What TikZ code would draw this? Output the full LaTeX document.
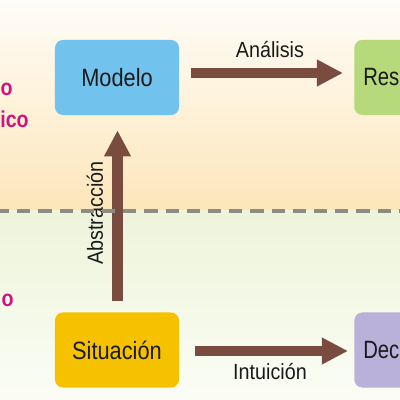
\documentclass[tikz,border=0pt]{standalone}
\usepackage{fontspec}
\setmainfont{Liberation Sans}
\newfontfamily\condfont[FakeStretch=0.87]{Liberation Sans}
\newfontfamily\tightfont[FakeStretch=0.81]{Liberation Sans}
\newfontfamily\lblfont[FakeStretch=0.9]{Liberation Sans}
\newfontfamily\magfont[FakeStretch=0.85]{Liberation Sans}
\usetikzlibrary{arrows.meta,calc}
\definecolor{bgtop}{HTML}{FFFDF8}
\definecolor{bgmid}{HTML}{FCE6BA}
\definecolor{bglow}{HTML}{EDF4DA}
\definecolor{bgbot}{HTML}{FBFDF5}
\definecolor{cblue}{HTML}{72C2EE}
\definecolor{cgreen}{HTML}{B6D97C}
\definecolor{cyellow}{HTML}{F6C200}
\definecolor{cviolet}{HTML}{B9B1D9}
\definecolor{cbrown}{HTML}{7A4B3F}
\definecolor{cmag}{HTML}{D0137F}
\definecolor{cdash}{HTML}{8C8B84}
\definecolor{ctext}{HTML}{1A1A1A}
\tikzset{
  stagebox/.style={rounded corners=0.2cm, minimum width=3.1cm, minimum height=1.875cm,
    inner sep=0pt, text=ctext, font=\condfont\fontsize{17.8}{20}\selectfont},
  cutbox/.style={stagebox, text width=2.65cm, align=left, inner xsep=0.225cm,
    font=\tightfont\fontsize{17.8}{20}\selectfont},
  bigarrow/.style={draw=cbrown, line width=0.265cm, -{Triangle[length=0.65cm,width=0.625cm]}},
  flowlbl/.style={inner sep=0pt, text=ctext, font=\lblfont\fontsize{15.6}{18}\selectfont},
  worldlbl/.style={inner sep=0pt, text=cmag, font=\magfont\bfseries\fontsize{16.4}{19}\selectfont, anchor=base east},
}
\begin{document}
\begin{tikzpicture}[x=0.025cm,y=0.025cm]
\useasboundingbox (0,0) rectangle (400,400);
\clip (0,0) rectangle (400,400);
\shade[top color=bgtop, bottom color=bgmid] (0,189) rectangle (400,400);
\shade[top color=bglow, bottom color=bgbot] (0,0) rectangle (400,189);

\node[stagebox, fill=cblue] (modelo) at (117,322.5) {Modelo};
\node[cutbox, fill=cgreen, anchor=west] (res) at (354,322.5) {Res};
\node[stagebox, fill=cyellow] (situacion) at (117,50) {Situación};
\node[cutbox, fill=cviolet, anchor=west] (dec) at (354,50) {Dec};

\draw[bigarrow] ($(modelo.east)+(12,4.5)$) -- ($(res.west)+(-11,4.5)$);
\draw[bigarrow] ($(situacion.east)+(16,-1)$) -- ($(dec.west)+(-6,-1)$);
\draw[bigarrow] ($(situacion.north)+(0.5,11)$) -- ($(modelo.south)+(0.5,-15)$);

\node[flowlbl] (lana) at (270,350) {Análisis};
\node[flowlbl] (lint) at (270,28) {Intuición};
\node[flowlbl, rotate=90] (labs) at (95,187) {Abstracción};

\node[worldlbl] (w1) at (13,304) {o};
\node[worldlbl] (w2) at (29,272) {ico};
\node[worldlbl] (w3) at (14,93) {o};

\draw[cdash, line width=0.1cm, dash pattern=on 0.33cm off 0.2cm, dash phase=0.1cm] (0,189) -- (400,189);
\end{tikzpicture}
\end{document}
